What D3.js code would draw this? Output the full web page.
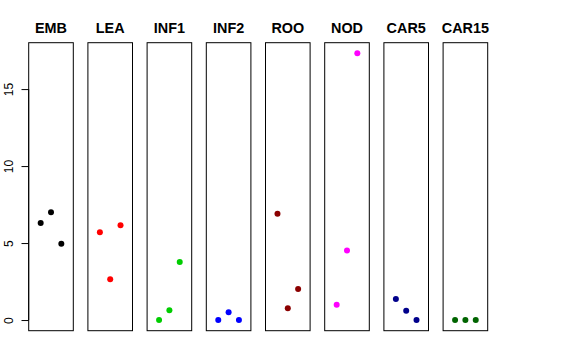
<!DOCTYPE html>
<html><head><meta charset="utf-8">
<script src="https://cdn.jsdelivr.net/npm/d3@7"></script>
<style>body{margin:0;background:#fff}svg{display:block}</style>
</head><body>
<script>
const categories = ["EMB","LEA","INF1","INF2","ROO","NOD","CAR5","CAR15"];
const colors = ["#000000","#FF0000","#00CD00","#0000FF","#8B0000","#FF00FF","#00008B","#006400"];
const values = [
  [6.3, 7.0, 4.95],
  [5.7, 2.65, 6.15],
  [0, 0.63, 3.77],
  [0, 0.5, 0],
  [6.9, 0.76, 2.01],
  [1.0, 4.52, 17.32],
  [1.36, 0.6, 0],
  [0, 0, 0]
];
const yTicks = [0, 5, 10, 15];

(function () {
const W = 576, H = 360;
const svg = d3.select("body").append("svg").attr("width", W).attr("height", H);

const plotTop = 42.7, plotBottom = 330.7;
const ymax = d3.max(values.flat());
const pad = ymax * 0.04;
const y = d3.scaleLinear().domain([-pad, ymax + pad]).range([plotBottom, plotTop]);

const panelLeft = 28.7, panelW = 44.6, pitch = 59.2;
const font = "Liberation Sans, Arial, Helvetica, sans-serif";

categories.forEach((cat, i) => {
  const x0 = panelLeft + i * pitch;
  const x = d3.scaleLinear().domain([-0.16, 4.16]).range([x0, x0 + panelW]);
  const g = svg.append("g");
  g.append("rect").attr("x", x0).attr("y", plotTop).attr("width", panelW).attr("height", plotBottom - plotTop)
    .attr("fill", "none").attr("stroke", "#000").attr("stroke-width", 1);
  g.selectAll("circle").data(values[i]).enter().append("circle")
    .attr("cx", (d, j) => x(j + 1)).attr("cy", d => y(d)).attr("r", 3)
    .attr("fill", colors[i]);
  g.append("text").attr("x", x0 + panelW / 2).attr("y", 33.3)
    .attr("text-anchor", "middle").attr("font-family", font)
    .attr("font-weight", "bold").attr("font-size", 14.4).text(cat);
});

// y axis
const axis = d3.axisLeft(y).tickValues(yTicks).tickSize(7.2).tickPadding(0).tickFormat(d3.format("d"));
const ag = svg.append("g").attr("transform", `translate(${panelLeft},0)`).call(axis);
ag.select(".domain").remove();
ag.append("line").attr("x1", 0).attr("x2", 0).attr("y1", y(0)).attr("y2", y(15)).attr("stroke", "#000");
ag.selectAll(".tick text").remove();
ag.selectAll(".tick").append("text")
  .attr("transform", "translate(-15.4,0) rotate(-90)")
  .attr("text-anchor", "middle").attr("fill", "#000")
  .attr("font-family", font).attr("font-size", 12)
  .text(d => d);
ag.selectAll(".tick line").attr("stroke", "#000");
})();
</script>
</body></html>
